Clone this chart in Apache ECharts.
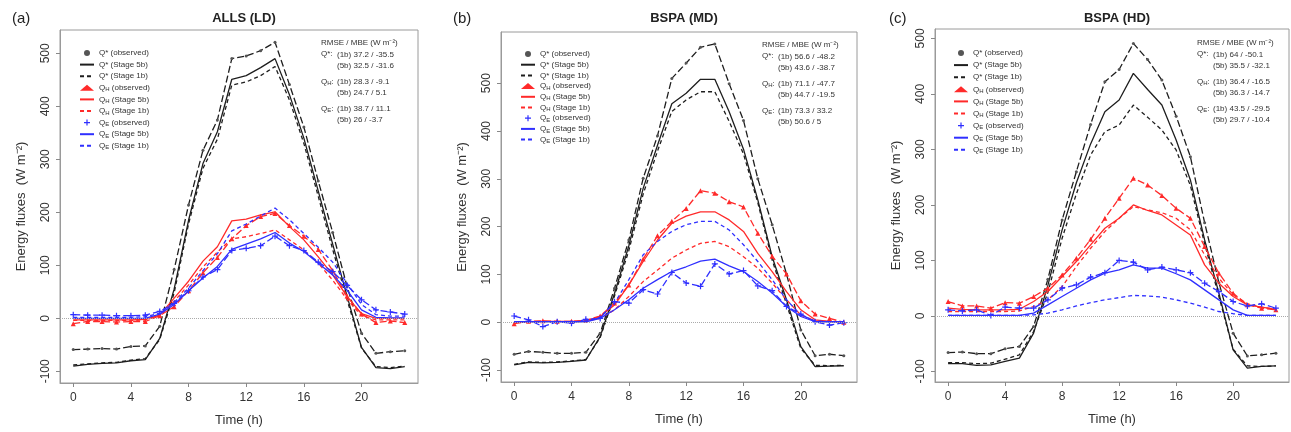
<!DOCTYPE html>
<html>
<head>
<meta charset="utf-8">
<script src="https://cdn.jsdelivr.net/npm/echarts@6/dist/echarts.min.js"></script>
<style>
html,body{margin:0;padding:0;background:#fff;}
#chart{width:1291px;height:432px;}
</style>
</head>
<body>
<div id="chart"></div>
<script>
// ---------- data ----------
const hours = [0,1,2,3,4,5,6,7,8,9,10,11,12,13,14,15,16,17,18,19,20,21,22,23];
const xTicks = [0,4,8,12,16,20];
const yTicks = [-100,0,100,200,300,400,500];
const panelTitles = ['ALLS (LD)','BSPA (MD)','BSPA (HD)'];
const panelLetters = ['(a)','(b)','(c)'];
const seriesNames = ['Q* (observed)','Q* (Stage 5b)','Q* (Stage 1b)',
                     'Q_H (observed)','Q_H (Stage 5b)','Q_H (Stage 1b)',
                     'Q_E (observed)','Q_E (Stage 5b)','Q_E (Stage 1b)'];

// Panel (a) ALLS (LD)
const qsObsA = [-59,-58,-57,-58,-53,-52,-15,92,214,317,374,490,495,505,521,441,361,259,162,60,-28,-66,-63,-61];
const qs5bA  = [-90,-87,-85,-84,-80,-78,-38,55,185,292,352,451,458,473,490,422,340,240,140,42,-55,-93,-95,-91];
const qs1bA  = [-88,-86,-84,-83,-79,-76,-40,48,178,283,338,440,446,458,475,412,330,230,130,35,-56,-91,-93,-90];
const qhObsA = [-10,-6,-6,-7,-6,-6,5,22,52,86,115,150,175,192,198,175,155,130,90,42,8,-8,-5,-8];
const qh5bA  = [-3,-3,-3,-3,-3,-2,6,38,70,108,135,184,187,195,201,173,148,116,82,41,9,0,0,0];
const qh1bA  = [-4,-4,-4,-4,-4,-3,5,32,63,97,125,150,154,160,167,148,129,104,72,36,5,-3,-3,-3];
const qeObsA = [7,6,6,5,5,6,13,28,52,78,92,128,132,137,155,137,128,106,88,62,35,16,12,8];
const qe5bA  = [0,0,0,0,0,0,8,26,52,76,98,130,140,150,162,142,126,104,82,53,16,2,1,1];
const qe1bA  = [2,2,2,2,2,3,10,30,57,90,122,165,178,193,208,186,160,134,106,66,26,7,4,4];

// Panel (b) BSPA (MD)
const qsObsB = [-67,-61,-63,-65,-65,-63,-23,71,172,301,390,510,542,575,582,499,422,300,204,101,-16,-70,-67,-70];
const qs5bB  = [-89,-84,-85,-84,-82,-79,-30,60,160,280,370,457,479,508,508,440,362,256,137,47,-51,-93,-92,-91];
const qs1bB  = [-88,-83,-84,-83,-81,-78,-32,55,150,268,358,441,465,482,482,420,352,250,130,38,-55,-90,-91,-90];
const qhObsB = [-3,2,3,2,2,4,13,40,78,132,181,211,238,275,270,252,241,186,138,101,45,17,8,0];
const qh5bB  = [0,1,2,2,2,3,12,36,78,127,172,207,222,231,231,214,190,144,106,64,26,5,2,1];
const qh1bB  = [0,0,1,1,1,2,8,26,54,85,109,134,151,165,169,158,137,113,82,47,15,3,1,0];
const qeObsB = [13,5,-9,1,-2,6,8,43,40,68,59,104,82,75,122,101,108,76,66,33,17,1,-6,-1];
const qe5bB  = [1,1,1,1,1,1,8,26,47,71,89,106,116,128,132,118,106,85,61,33,12,1,1,1];
const qe1bB  = [1,1,1,1,1,2,10,40,89,141,169,190,204,211,211,193,162,127,89,47,15,3,1,0];

// Panel (c) BSPA (HD)
const qsObsC = [-66,-65,-68,-68,-59,-55,-19,66,173,260,345,422,444,491,462,425,360,287,168,60,-31,-72,-70,-67];
const qs5bC  = [-86,-86,-89,-88,-82,-76,-31,55,155,240,310,368,389,437,408,380,317,245,137,41,-61,-94,-91,-90];
const qs1bC  = [-84,-84,-86,-85,-78,-70,-28,42,140,220,290,332,344,380,358,335,299,235,130,35,-60,-90,-91,-90];
const qhObsC = [26,18,18,14,24,23,35,50,74,104,138,176,212,248,236,217,194,176,125,77,41,20,14,11];
const qh5bC  = [14,12,11,11,11,12,26,44,71,98,128,158,176,200,190,182,164,146,92,59,35,20,16,12];
const qh1bC  = [8,8,8,8,8,9,17,29,53,89,122,152,176,197,191,186,176,155,110,68,38,22,16,12];
const qeObsC = [11,9,11,1,16,14,14,29,50,56,70,78,100,97,83,88,83,78,59,44,26,18,22,14];
const qe5bC  = [1,1,1,1,1,1,5,20,35,50,65,77,83,92,86,86,76,65,47,29,11,1,1,1];
const qe1bC  = [1,1,1,1,1,1,2,5,11,18,24,29,33,37,36,34,29,23,16,8,4,1,1,1];

const statsA = [['Q*','37.2 / -35.5','32.5 / -31.6'],['Q_H','28.3 / -9.1','24.7 / 5.1'],['Q_E','38.7 / 11.1','26 / -3.7']];
const statsB = [['Q*','56.6 / -48.2','43.6 / -38.7'],['Q_H','71.1 / -47.7','44.7 / -19.5'],['Q_E','73.3 / 33.2','50.6 / 5']];
const statsC = [['Q*','64 / -50.1','35.5 / -32.1'],['Q_H','36.4 / -16.5','36.3 / -14.7'],['Q_E','43.5 / -29.5','29.7 / -10.4']];

// ---------- layout / style ----------
const FONT = "'Liberation Sans', Arial, Helvetica, sans-serif";
const BLACK = '#1e1e1e', RED = '#ff2a2a', BLUE = '#2f2fff';
const grids = [
  {left:60, top:30, width:358, height:353, ymin:-122, ymax:544},
  {left:501, top:32, width:356, height:350, ymin:-125, ymax:607},
  {left:935, top:29, width:354, height:353, ymin:-119, ymax:517}
];
const panels = [
  {data:[qsObsA,qs5bA,qs1bA,qhObsA,qh5bA,qh1bA,qeObsA,qe5bA,qe1bA], stats:statsA, legend:{x:74,y:43,step:11.6}, statsPos:{x:316,y:34}},
  {data:[qsObsB,qs5bB,qs1bB,qhObsB,qh5bB,qh1bB,qeObsB,qe5bB,qe1bB], stats:statsB, legend:{x:515,y:44,step:10.7}, statsPos:{x:757,y:36}},
  {data:[qsObsC,qs5bC,qs1bC,qhObsC,qh5bC,qh1bC,qeObsC,qe5bC,qe1bC], stats:statsC, legend:{x:948,y:43,step:12.1}, statsPos:{x:1192,y:34}}
];
const PLUS = 'path://M4,0H6V4H10V6H6V10H4V6H0V4H4Z';
const styles = [
  {color:BLACK, kind:'obs', symbol:'circle', size:3, mcolor:'#555'},
  {color:BLACK, kind:'5b'}, {color:BLACK, kind:'1b'},
  {color:RED, kind:'obs', symbol:'triangle', size:5, mcolor:RED},
  {color:RED, kind:'5b'}, {color:RED, kind:'1b'},
  {color:BLUE, kind:'obs', symbol:PLUS, size:6, mcolor:BLUE},
  {color:BLUE, kind:'5b'}, {color:BLUE, kind:'1b'}
];

function richName(s){
  const m = s.match(/^Q_([HE])(.*)$/);
  if (m) return '{n|Q}{s|' + m[1] + '}{n|' + m[2] + '}';
  return '{n|' + s + '}';
}

const option = {
  animation:false,
  backgroundColor:'#fff',
  textStyle:{fontFamily:FONT},
  grid:[], xAxis:[], yAxis:[], series:[], legend:[], title:[]
};

grids.forEach((g,i)=>{
  option.grid.push({left:g.left, top:g.top, width:g.width, height:g.height, show:true, borderColor:'#9a9a9a', borderWidth:1, backgroundColor:'transparent'});
  option.xAxis.push({
    gridIndex:i, type:'value', min:-0.92, max:23.92, position:'bottom',
    splitLine:{show:false}, axisLine:{show:true, onZero:false, lineStyle:{color:'#9a9a9a', width:1}},
    axisTick:{show:true, customValues:xTicks, length:4, lineStyle:{color:'#888'}},
    axisLabel:{customValues:xTicks, fontSize:12, color:'#333', margin:9, fontFamily:FONT},
    name:'Time (h)', nameLocation:'middle', nameGap:31,
    nameTextStyle:{fontSize:13, color:'#333', fontFamily:FONT}
  });
  option.yAxis.push({
    gridIndex:i, type:'value', min:g.ymin, max:g.ymax, position:'left',
    splitLine:{show:false}, axisLine:{show:true, onZero:false, lineStyle:{color:'#9a9a9a', width:1}},
    axisTick:{show:true, customValues:yTicks, length:4, lineStyle:{color:'#888'}},
    axisLabel:{customValues:yTicks, fontSize:12, color:'#333', margin:8, rotate:90, fontFamily:FONT},
    name:'Energy fluxes  (W m\u207B\u00B2)', nameLocation:'middle', nameGap:32, nameRotate:90,
    nameTextStyle:{fontSize:13, color:'#333', fontFamily:FONT}
  });

  const p = panels[i];
  p.data.forEach((vals,k)=>{
    const st = styles[k];
    const s = {
      name: seriesNames[k], type:'line', xAxisIndex:i, yAxisIndex:i,
      data: hours.map((h,j)=>[h, vals[j]]),
      silent:true, z: 2 + (k>=3?1:0) + (k>=6?1:0),
      lineStyle:{color:st.color, width:1.3, type: st.kind==='5b' ? 'solid' : (st.kind==='1b' ? [4,3] : [7,3])},
      itemStyle:{color: st.mcolor || st.color}
    };
    if (st.kind==='obs'){
      s.symbol = st.symbol; s.symbolSize = st.size; s.showSymbol = true;
      s.itemStyle = {color: st.mcolor, borderWidth:0};
    } else {
      s.symbol = 'none'; s.showSymbol = false;
    }
    if (k===0){
      s.markLine = {silent:true, symbol:'none', label:{show:false}, animation:false,
        lineStyle:{color:'#aaa', type:'dotted', width:1}, data:[{yAxis:0}]};
    }
    option.series.push(s);
  });

  option.legend.push({
    orient:'vertical', left:p.legend.x, top:p.legend.y, selectedMode:false,
    itemWidth:14, itemHeight:6, itemGap: p.legend.step - 10,
    data: seriesNames.map((n,k)=> styles[k].kind==='obs'
      ? {name:n, icon: styles[k].symbol, itemStyle:{color:styles[k].mcolor}}
      : {name:n, itemStyle:{opacity:0, color:'rgba(0,0,0,0)', borderWidth:0}}),
    formatter: n => richName(n),
    textStyle:{fontSize:8, color:'#333', fontFamily:FONT, lineHeight:10,
      rich:{ n:{fontSize:8, color:'#333', fontFamily:FONT, lineHeight:10},
             s:{fontSize:6, color:'#333', fontFamily:FONT, lineHeight:10, padding:[4,0,0,0]} }}
  });

  const cx = g.left + g.width/2;
  option.title.push({text:panelLetters[i], left: [7,448,884][i], top:6,
    textStyle:{fontSize:15, fontWeight:'normal', color:'#222', fontFamily:FONT}});
  option.title.push({text:panelTitles[i], left:cx, top:7, textAlign:'center',
    textStyle:{fontSize:13, fontWeight:'bold', color:'#222', fontFamily:FONT}});

  const sp = p.statsPos;
  option.title.push({text:'RMSE / MBE (W m\u207B\u00B2)', left:sp.x, top:sp.y,
    textStyle:{fontSize:8, fontWeight:'normal', color:'#333', fontFamily:FONT}});
  p.stats.forEach((row,r)=>{
    const lab = row[0].startsWith('Q_')
      ? '{l|Q}{s|' + row[0].slice(2) + '}{l|:}' : '{l|' + row[0] + ':}';
    option.title.push({
      text: lab,
      left: sp.x, top: sp.y + 11 + r*27,
      textStyle:{fontSize:8, fontWeight:'normal', color:'#333', fontFamily:FONT,
        rich:{ l:{fontSize:8, color:'#333', fontFamily:FONT},
               s:{fontSize:6, color:'#333', fontFamily:FONT, padding:[3,0,0,0]} }}
    });
    option.title.push({
      text: '(1b) ' + row[1] + '\n(5b) ' + row[2],
      left: sp.x + 16, top: sp.y + 11 + r*27,
      textStyle:{fontSize:8, fontWeight:'normal', color:'#333', fontFamily:FONT, lineHeight:10.5}
    });
  });
});

const chart = echarts.init(document.getElementById('chart'), null, {renderer:'canvas'});
chart.setOption(option);
</script>
</body>
</html>
